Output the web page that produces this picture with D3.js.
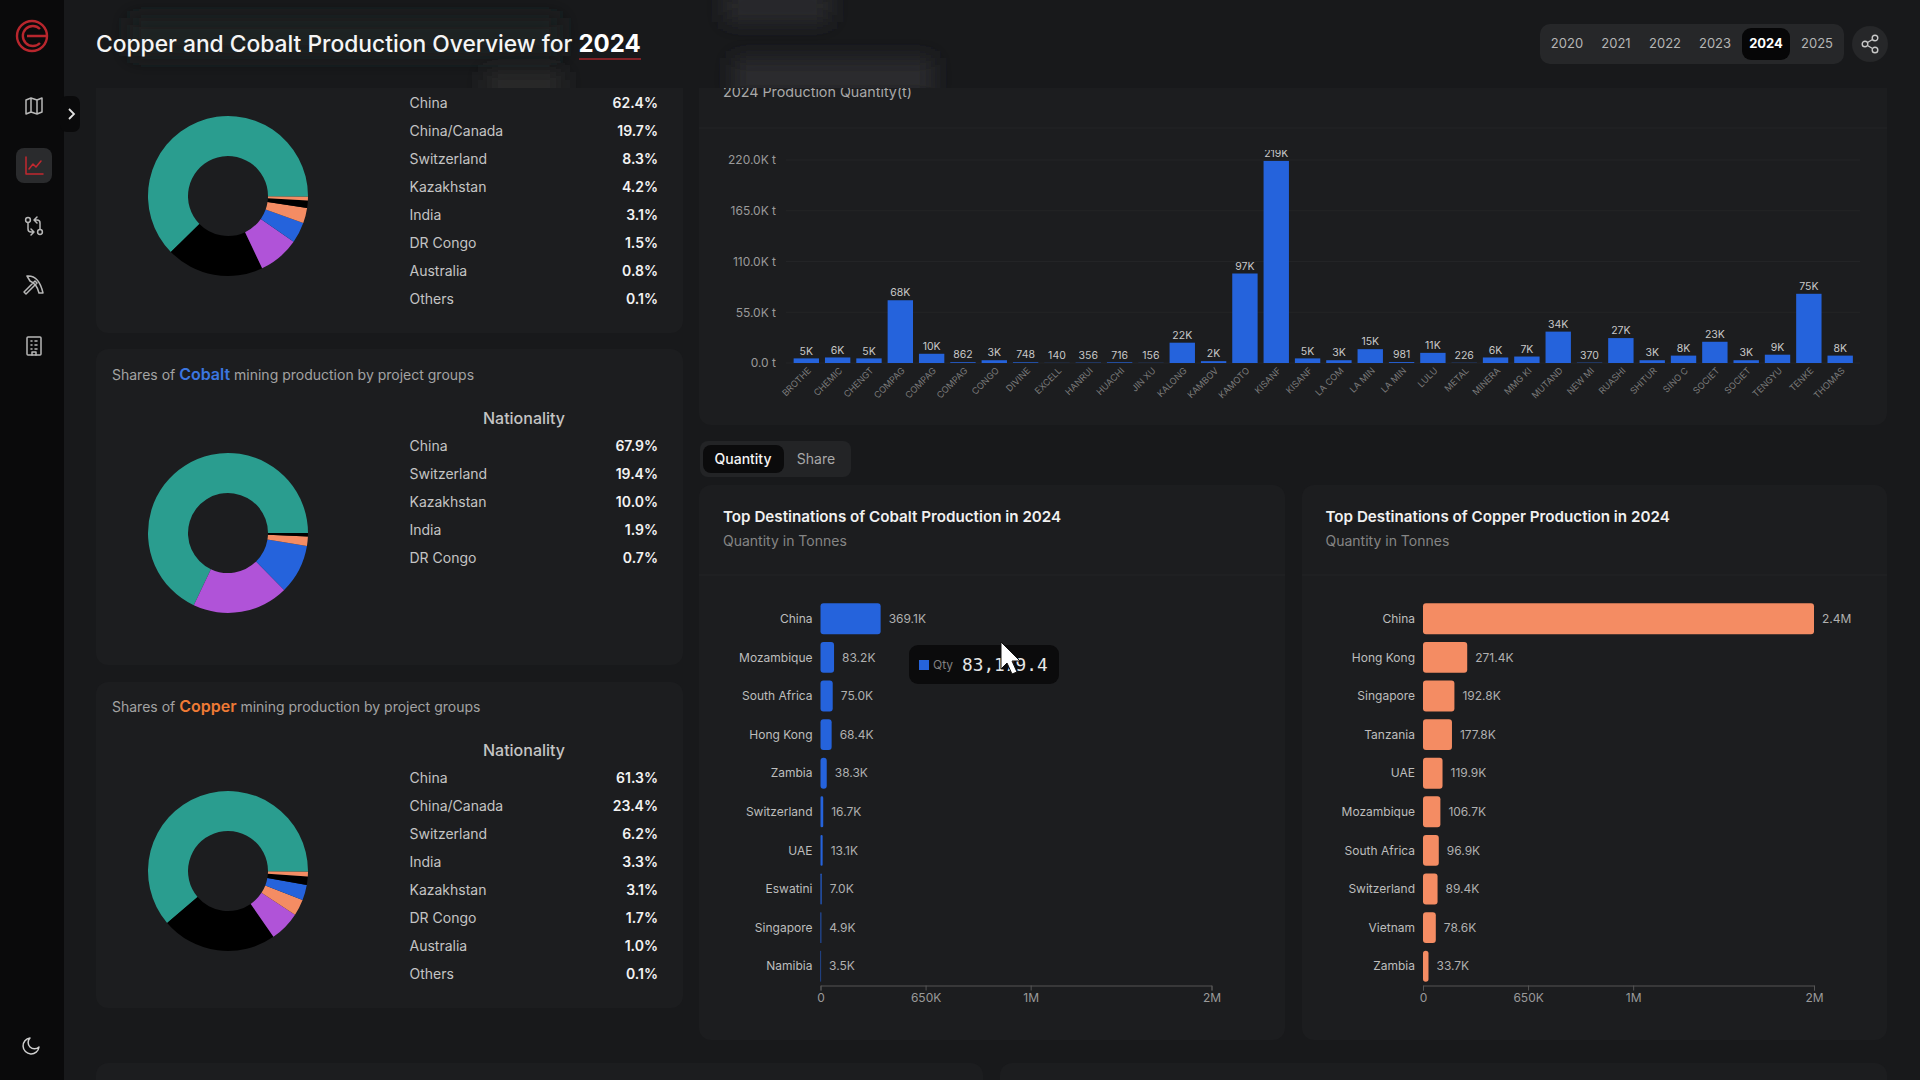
<!DOCTYPE html>
<html>
<head>
<meta charset="utf-8">
<script src="https://cdn.jsdelivr.net/npm/d3@7"></script>
<style>
  html, body { margin: 0; padding: 0; background: #18191b; overflow: hidden; }
  svg { display: block; font-family: Inter, "Noto Sans", sans-serif; }
</style>
</head>
<body>
<script>
// page data
var years = ["2020", "2021", "2022", "2023", "2024", "2025"];
var yearCenters = [1567, 1616, 1665, 1715, 1766, 1817];

var totalNames = ["China", "China/Canada", "Switzerland", "Kazakhstan", "India", "DR Congo", "Australia", "Others"];
var totalShares = [62.4, 19.7, 8.3, 4.2, 3.1, 1.5, 0.8, 0.1];

var cobaltNames = ["China", "Switzerland", "Kazakhstan", "India", "DR Congo"];
var cobaltShares = [67.9, 19.4, 10.0, 1.9, 0.7];

var copperNames = ["China", "China/Canada", "Switzerland", "India", "Kazakhstan", "DR Congo", "Australia", "Others"];
var copperShares = [61.3, 23.4, 6.2, 3.3, 3.1, 1.7, 1.0, 0.1];

var nationColors = {
  "China": "#2a9d8f",
  "China/Canada": "#000000",
  "Switzerland": "#b053d8",
  "Kazakhstan": "#2563dc",
  "India": "#f48c63",
  "DR Congo": "#000000",
  "Australia": "#f48c63",
  "Others": "#2a9d8f"
};

var projectNames = ["BROTHE", "CHEMIC", "CHENGT", "COMPAG", "COMPAG", "COMPAG", "CONGO", "DIVINE", "EXCELL", "HANRUI", "HUACHI", "JIN XU", "KALONG", "KAMBOV", "KAMOTO", "KISANF", "KISANF", "LA COM", "LA MIN", "LA MIN", "LULU", "METAL", "MINERA", "MMG KI", "MUTAND", "NEW MI", "RUASHI", "SHITUR", "SINO C", "SOCIET", "SOCIET", "TENGYU", "TENKE", "THOMAS"];
var projectQty = [5000, 6000, 5000, 68000, 10000, 862, 3000, 748, 140, 356, 716, 156, 22000, 2000, 97000, 219000, 5000, 3000, 15000, 981, 11000, 226, 6000, 7000, 34000, 370, 27000, 3000, 8000, 23000, 3000, 9000, 75000, 8000];
var projectTicks = [0, 55000, 110000, 165000, 220000];

var cobaltDest = ["China", "Mozambique", "South Africa", "Hong Kong", "Zambia", "Switzerland", "UAE", "Eswatini", "Singapore", "Namibia"];
var cobaltQty = [369100, 83200, 75000, 68400, 38300, 16700, 13100, 7000, 4900, 3500];

var copperDest = ["China", "Hong Kong", "Singapore", "Tanzania", "UAE", "Mozambique", "South Africa", "Switzerland", "Vietnam", "Zambia"];
var copperQty = [2400000, 271400, 192800, 177800, 119900, 106700, 96900, 89400, 78600, 33700];

// the labels on this axis are rounded, the ticks themselves sit at about 645K and 1.29M
var destTicks = [0, 645000, 1290000, 2400000];
var destTickLabels = ["0", "650K", "1M", "2M"];

var svg = d3.select("body").append("svg").attr("width", 1920).attr("height", 1080);
var defs = svg.append("defs");
defs.append("filter").attr("id", "blur").attr("x", "-50%").attr("y", "-200%").attr("width", "200%").attr("height", "500%")
  .append("feGaussianBlur").attr("stdDeviation", 10);
defs.append("clipPath").attr("id", "plotClip").append("rect")
  .attr("x", 700).attr("y", 150).attr("width", 1187).attr("height", 275);
defs.append("clipPath").attr("id", "headerClip").append("rect")
  .attr("x", 64).attr("y", 0).attr("width", 1856).attr("height", 88);

var cardFill = "#1c1d1f";
var lineFill = "#232426";

var card = function(x, y, w, h) {
  svg.append("rect").attr("x", x).attr("y", y).attr("width", w).attr("height", h)
    .attr("rx", 12).attr("fill", cardFill);
};

var label = function(parent, x, y, str, size, color, weight, anchor) {
  return parent.append("text").attr("x", x).attr("y", y).attr("dy", "0.35em")
    .attr("font-size", size).attr("fill", color)
    .attr("font-weight", weight || 400).attr("text-anchor", anchor || "start").text(str);
};

// cards behind everything
card(96, 60, 587, 273);
card(96, 349, 587, 316);
card(96, 682, 587, 326);
card(699, 60, 1188, 365);
card(699, 485, 586, 555);
card(1302, 485, 585, 555);
card(96, 1063, 887, 40);
card(1000, 1063, 887, 40);

// donut with its table
var donut = function(names, shares, cx, cy, rowTop) {
  var pie = d3.pie().sort(null).startAngle(Math.PI / 2).endAngle(Math.PI / 2 - 2 * Math.PI);
  var arc = d3.arc().innerRadius(40).outerRadius(80);
  svg.append("g").attr("transform", "translate(" + cx + "," + cy + ")")
    .selectAll("path").data(pie(shares)).enter().append("path")
    .attr("d", arc)
    .attr("fill", function(d, i) { return nationColors[names[i]]; });

  var rowY = d3.scaleLinear().domain([0, 1]).range([rowTop, rowTop + 28]);
  names.forEach(function(n, i) {
    label(svg, 409.5, rowY(i), n, 14, "#c4c4c4");
    label(svg, 658, rowY(i), shares[i].toFixed(1) + "%", 14, "#f2f2f2", 600, "end");
  });
};

donut(totalNames, totalShares, 228, 196, 103);
donut(cobaltNames, cobaltShares, 228, 533, 446);
donut(copperNames, copperShares, 228, 871, 778);

var shareTitle = function(y, metal, color) {
  var t = svg.append("text").attr("x", 112).attr("y", y).attr("dy", "0.35em")
    .attr("font-size", 14).attr("fill", "#a3a3a3");
  t.append("tspan").text("Shares of ");
  t.append("tspan").attr("font-size", 16).attr("font-weight", 600).attr("fill", color).text(metal);
  t.append("tspan").text(" mining production by project groups");
};
shareTitle(375, "Cobalt", "#3b76e0");
shareTitle(707, "Copper", "#ef7a35");
label(svg, 524, 418, "Nationality", 16, "#c4c4c4", 500, "middle");
label(svg, 524, 750, "Nationality", 16, "#c4c4c4", 500, "middle");

// project bar chart
label(svg, 723, 92, "2024 Production Quantity(t)", 14.3, "#a8a8a8");
svg.append("line").attr("x1", 699).attr("x2", 1887).attr("y1", 128).attr("y2", 128).attr("stroke", lineFill);

var x = d3.scaleBand().domain(d3.range(projectNames.length)).range([790.5, 1856]).paddingInner(0.19).paddingOuter(0.1);
var y = d3.scaleLinear().domain([0, 220000]).range([363, 160]);

var kFormat = function(v) { return v >= 1000 ? Math.round(v / 1000) + "K" : String(v); };

var gridG = svg.append("g");
gridG.selectAll("line").data(projectTicks).enter().append("line")
  .attr("x1", 786).attr("x2", 1860)
  .attr("y1", function(d) { return y(d); }).attr("y2", function(d) { return y(d); })
  .attr("stroke", lineFill);

var yAxis = svg.append("g").attr("transform", "translate(776,0)")
  .call(d3.axisLeft(y).tickValues(projectTicks).tickSize(0).tickPadding(0)
    .tickFormat(function(d) { return (d / 1000).toFixed(1) + (d ? "K t" : " t"); }));
yAxis.select(".domain").remove();
yAxis.selectAll("text").attr("font-size", 12).attr("font-family", "Inter").attr("fill", "#9a9a9a");

var plot = svg.append("g").attr("clip-path", "url(#plotClip)");
plot.selectAll("rect").data(projectQty).enter().append("rect")
  .attr("x", function(d, i) { return x(i); })
  .attr("y", function(d) { return y(d); })
  .attr("width", x.bandwidth())
  .attr("height", function(d) { return 363 - y(d); })
  .attr("fill", "#2563dc");
plot.selectAll("text").data(projectQty).enter().append("text")
  .attr("x", function(d, i) { return x(i) + x.bandwidth() / 2; })
  .attr("y", function(d) { return y(d) - 7.5; })
  .attr("dy", "0.35em")
  .attr("text-anchor", "middle").attr("font-size", 10.5).attr("fill", "#c8c8c8")
  .text(kFormat);

svg.append("g").selectAll("text").data(projectNames).enter().append("text")
  .attr("transform", function(d, i) { return "translate(" + (x(i) + x.bandwidth() / 2 + 3) + ",369) rotate(-45)"; })
  .attr("text-anchor", "end").attr("dy", "0.35em")
  .attr("font-size", 9).attr("fill", "#7a7a7a")
  .text(function(d) { return d; });

// tabs
svg.append("rect").attr("x", 700).attr("y", 441).attr("width", 151).attr("height", 36).attr("rx", 8).attr("fill", "#232426");
svg.append("rect").attr("x", 703).attr("y", 445).attr("width", 81).attr("height", 28).attr("rx", 8).attr("fill", "#0b0b0c");
label(svg, 743, 459, "Quantity", 14, "#f5f5f5", 500, "middle");
label(svg, 816, 459, "Share", 14, "#a8a8a8", 400, "middle");

// destination charts
var destChart = function(names, qty, color, x0, title, cardX, cardW) {
  label(svg, x0 - 97.5, 517, title, 15.2, "#f0f0f0", 600);
  label(svg, x0 - 97.5, 541, "Quantity in Tonnes", 14, "#858585");
  svg.append("line").attr("x1", cardX).attr("x2", cardX + cardW).attr("y1", 575).attr("y2", 575).attr("stroke", lineFill);

  var sx = d3.scaleLinear().domain([0, 2400000]).range([x0, x0 + 391]);
  var sy = d3.scaleBand().domain(names).range([599.5, 985.5]).paddingInner(0.2).paddingOuter(0.1);

  var g = svg.append("g");
  g.selectAll("rect").data(qty).enter().append("rect")
    .attr("x", x0)
    .attr("y", function(d, i) { return sy(names[i]); })
    .attr("width", function(d) { return sx(d) - x0; })
    .attr("height", sy.bandwidth())
    .attr("rx", function(d) { return Math.min(3, (sx(d) - x0) / 2); })
    .attr("fill", color);
  g.selectAll(".cat").data(names).enter().append("text").attr("class", "cat")
    .attr("x", x0 - 8).attr("y", function(d) { return sy(d) + sy.bandwidth() / 2; }).attr("dy", "0.35em")
    .attr("text-anchor", "end").attr("font-size", 12).attr("fill", "#bdbdbd")
    .text(function(d) { return d; });
  g.selectAll(".val").data(qty).enter().append("text").attr("class", "val")
    .attr("x", function(d) { return sx(d) + 8; })
    .attr("y", function(d, i) { return sy(names[i]) + sy.bandwidth() / 2; }).attr("dy", "0.35em")
    .attr("font-size", 12).attr("fill", "#b0b0b0")
    .text(function(d) { return d >= 1000000 ? (d / 1000000).toFixed(1) + "M" : (d / 1000).toFixed(1) + "K"; });

  var ax = svg.append("g").attr("transform", "translate(0,985.5)")
    .call(d3.axisBottom(sx).tickValues(destTicks).tickSize(5).tickPadding(3)
      .tickFormat(function(d, i) { return destTickLabels[i]; }));
  ax.select(".domain").attr("stroke", "#555");
  ax.selectAll(".tick line").attr("stroke", "#555");
  ax.selectAll("text").attr("font-size", 12).attr("font-family", "Inter").attr("fill", "#9a9a9a");
};
destChart(cobaltDest, cobaltQty, "#2563dc", 820.5, "Top Destinations of Cobalt Production in 2024", 699, 586);
destChart(copperDest, copperQty, "#f48c63", 1423, "Top Destinations of Copper Production in 2024", 1302, 585);

// tooltip and cursor
svg.append("rect").attr("x", 909).attr("y", 645).attr("width", 150).attr("height", 39).attr("rx", 9).attr("fill", "#0b0b0c");
svg.append("rect").attr("x", 919).attr("y", 660).attr("width", 10).attr("height", 10).attr("fill", "#2563dc");
label(svg, 933, 665, "Qty", 12, "#808080");
label(svg, 962, 665, "83,179.4", 17.8, "#e6e6e6", 400).attr("font-family", "DejaVu Sans Mono");
svg.append("path").attr("transform", "translate(1001,642)")
  .attr("d", "M0,0 L0,27 L6,21 L11,32 L16,30 L11,19 L19,19 Z")
  .attr("fill", "#ffffff").attr("stroke", "#111").attr("stroke-width", 1);

// header, sits over the scrolled content
var header = svg.append("g").attr("clip-path", "url(#headerClip)");
header.append("rect").attr("x", 64).attr("y", 0).attr("width", 1856).attr("height", 88).attr("fill", "#18191b");
header.append("rect").attr("x", 130).attr("y", 18).attr("width", 430).attr("height", 38).attr("fill", "#1f2022").attr("filter", "url(#blur)");
header.append("rect").attr("x", 733).attr("y", 58).attr("width", 200).attr("height", 40).attr("fill", "#2b2c2e").attr("filter", "url(#blur)");
header.append("rect").attr("x", 485).attr("y", 72).attr("width", 78).attr("height", 24).attr("fill", "#292a2c").attr("filter", "url(#blur)");
header.append("rect").attr("x", 725).attr("y", -10).attr("width", 105).attr("height", 32).attr("fill", "#2a2b2d").attr("filter", "url(#blur)");

var titleText = svg.append("text").attr("x", 96).attr("y", 44).attr("dy", "0.35em")
  .attr("font-size", 22.8).attr("font-weight", 500).attr("fill", "#f5f5f5");
titleText.append("tspan").text("Copper and Cobalt Production Overview for ");
titleText.append("tspan").attr("font-size", 24).attr("font-weight", 700).attr("fill", "#ffffff").text("2024");
svg.append("line").attr("x1", 579).attr("x2", 641).attr("y1", 59).attr("y2", 59).attr("stroke", "#a3242b").attr("stroke-width", 1.5);

// year switch
svg.append("rect").attr("x", 1540).attr("y", 24).attr("width", 304).attr("height", 40).attr("rx", 10).attr("fill", "#262729");
svg.append("rect").attr("x", 1742).attr("y", 28).attr("width", 48).attr("height", 32).attr("rx", 9).attr("fill", "#060607");
years.forEach(function(yr, i) {
  var active = yr === "2024";
  label(svg, yearCenters[i], 43.5, yr, 13, active ? "#ffffff" : "#b5b5b5", active ? 700 : 400, "middle");
});

// share button
var share = svg.append("g").attr("transform", "translate(1870,44)");
share.append("circle").attr("r", 18).attr("fill", "#262729");
share.append("path").attr("d", "M-5,0 L5,-6 M-5,0 L5,6").attr("stroke", "#c8c8c8").attr("stroke-width", 1.4);
[[-5, 0], [5, -6], [5, 6]].forEach(function(p) {
  share.append("circle").attr("cx", p[0]).attr("cy", p[1]).attr("r", 2.8)
    .attr("fill", "#262729").attr("stroke", "#c8c8c8").attr("stroke-width", 1.4);
});

// sidebar
var side = svg.append("g");
side.append("rect").attr("width", 64).attr("height", 1080).attr("fill", "#0a0a0b");
side.append("rect").attr("x", 60).attr("y", 96).attr("width", 20).attr("height", 36).attr("rx", 7).attr("fill", "#0a0a0b");
side.append("path").attr("d", "M69,109 L74,114 L69,119").attr("fill", "none").attr("stroke", "#e0e0e0").attr("stroke-width", 1.8);

var logo = side.append("g").attr("transform", "translate(32,36)").attr("fill", "none").attr("stroke", "#b8262d").attr("stroke-width", 2.4);
logo.append("circle").attr("r", 15);
logo.append("path").attr("d", "M8,-7 A10,10 0 1 0 8,7 M-5,0 H15");

var iconStroke = function(tx, ty, color) {
  return side.append("g").attr("transform", "translate(" + tx + "," + ty + ")")
    .attr("fill", "none").attr("stroke", color).attr("stroke-width", 1.5)
    .attr("stroke-linejoin", "round").attr("stroke-linecap", "round");
};

var map = iconStroke(34, 106, "#b8b8b8");
map.append("path").attr("d", "M-8,-6 L-3,-8 L3,-6 L8,-8 V6 L3,8 L-3,6 L-8,8 Z M-3,-8 V6 M3,-6 V8");

side.append("rect").attr("x", 16).attr("y", 148).attr("width", 36).attr("height", 35).attr("rx", 8).attr("fill", "#2a2b2d");
var chartIcon = iconStroke(34, 166, "#c2282f");
chartIcon.append("path").attr("d", "M-8,-9 V8 H9 M-5,3 L-1,-2 L2,1 L7,-5");

var compare = iconStroke(34, 226, "#b8b8b8");
compare.append("circle").attr("cx", -6).attr("cy", -6).attr("r", 2.4);
compare.append("circle").attr("cx", 6).attr("cy", 6).attr("r", 2.4);
compare.append("path").attr("d", "M-6,-3 V3 Q-6,6 -3,6 H-1 M-3,3 L0,6 L-3,9 M6,3 V-3 Q6,-6 3,-6 H1 M3,-9 L0,-6 L3,-3");

var pick = iconStroke(34, 285, "#b8b8b8");
pick.append("path").attr("d", "M-8,9 L-10,7 L1,-4 L3,-2 Z M-7,-9 Q5,-10 9,8 L5,8 Q3,-1 -4,-4 Z");

var building = iconStroke(34, 346, "#b8b8b8");
building.append("rect").attr("x", -7).attr("y", -9).attr("width", 14).attr("height", 18).attr("rx", 1);
building.append("path").attr("d", "M-3,-5 H-2 M1,-5 H3 M-3,-1 H-2 M1,-1 H3 M-3,3 H-2 M1,3 H3 M-2,9 V6 H2 V9");

var moon = iconStroke(32, 1045, "#d0d0d0");
moon.append("path").attr("d", "M7,2 A8,8 0 1 1 -2,-7 A6,6 0 0 0 7,2 Z");
</script>
</body>
</html>
